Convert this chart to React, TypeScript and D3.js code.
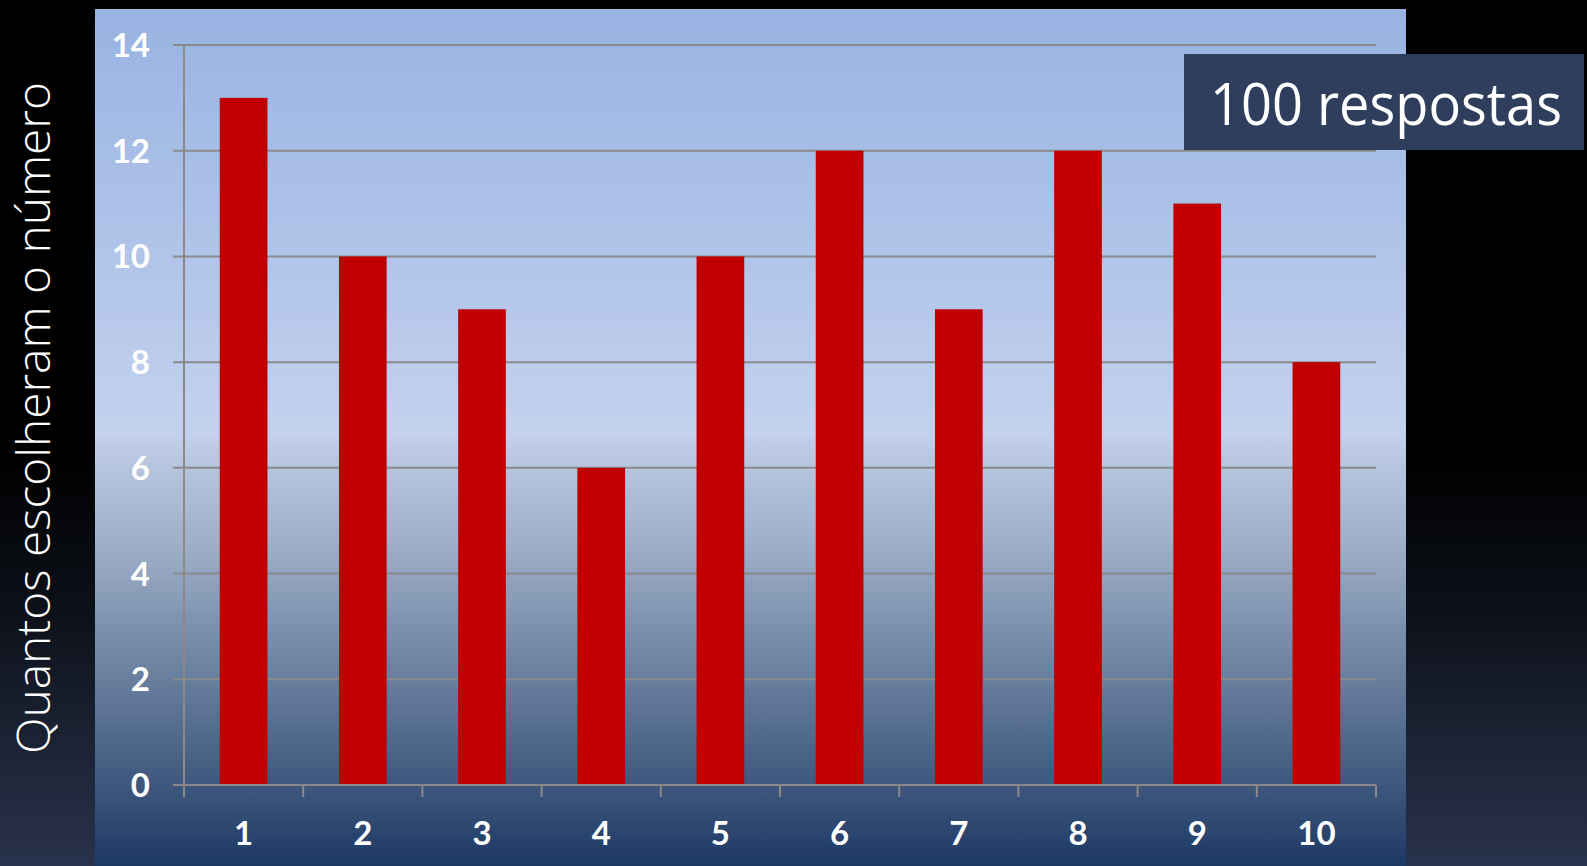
import React from "react";
import * as d3 from "d3";

const categories = ["1", "2", "3", "4", "5", "6", "7", "8", "9", "10"];
const values = [13, 10, 9, 6, 10, 12, 9, 12, 11, 8];
const yTicks = [0, 2, 4, 6, 8, 10, 12, 14];
const yTitle = "Quantos escolheram o número";
const legendText = "100 respostas";

const W = 1587;
const H = 866;

export default function App() {
  const x = d3.scaleBand<string>().domain(categories).range([184, 1376]).paddingInner(0.6).paddingOuter(0.3);
  const xb = d3.scaleBand<string>().domain(categories).range([184, 1376]);
  const y = d3.scaleLinear().domain([0, 14]).range([785, 45]);
  const gridColor = "#8a8a8a";
  return (
    <div style={{ position: "absolute", left: 0, top: 0, width: W, height: H }}>
      <svg width={W} height={H} style={{ display: "block" }}>
        <defs>
          <linearGradient id="outer" x1="0" y1="0" x2="0" y2="1">
            <stop offset="0" stopColor="#000000" />
            <stop offset="0.52" stopColor="#000000" />
            <stop offset="0.7" stopColor="#0c1018" />
            <stop offset="0.85" stopColor="#1b2233" />
            <stop offset="1" stopColor="#29324c" />
          </linearGradient>
          <linearGradient id="panel" x1="0" y1="0" x2="0" y2="1">
            <stop offset="0" stopColor="#98b3e2" />
            <stop offset="0.495" stopColor="#c3d1ee" />
            <stop offset="0.52" stopColor="#bac8e2" />
            <stop offset="0.62" stopColor="#a0b0ca" />
            <stop offset="0.78" stopColor="#687f9e" />
            <stop offset="0.9" stopColor="#41597e" />
            <stop offset="1" stopColor="#1c3864" />
          </linearGradient>
        </defs>
        <rect x={0} y={0} width={W} height={H} fill="url(#outer)" />
        <rect x={95} y={9} width={1311} height={H - 9} fill="url(#panel)" />
        {yTicks.map((t) => (
          <g key={t}>
            <line x1={173} x2={1376} y1={y(t)} y2={y(t)} stroke={gridColor} strokeWidth={2} />
            <text x={150} y={y(t) + 12} textAnchor="end" fill="#ffffff" fontFamily="Lato, 'Open Sans', sans-serif" fontWeight={700} fontSize={33}>
              {t}
            </text>
          </g>
        ))}
        <line x1={184} x2={184} y1={45} y2={797} stroke={gridColor} strokeWidth={2} />
        {[...categories.map((c) => xb(c) as number), 1376].map((px, i) => (
          <line key={i} x1={px} x2={px} y1={785} y2={797} stroke={gridColor} strokeWidth={2} />
        ))}
        {values.map((v, i) => (
          <rect key={i} x={x(categories[i])} y={y(v)} width={x.bandwidth()} height={y(0) - y(v)} fill="#c00000" />
        ))}
        <line x1={173} x2={1376} y1={785} y2={785} stroke={gridColor} strokeWidth={2} />
        {categories.map((c) => (
          <text key={c} x={(xb(c) as number) + xb.bandwidth() / 2} y={845} textAnchor="middle" fill="#ffffff" fontFamily="Lato, 'Open Sans', sans-serif" fontWeight={700} fontSize={33}>
            {c}
          </text>
        ))}
        <text
          transform="translate(50,418) rotate(-90)"
          textAnchor="middle"
          fill="#ffffff"
          fontFamily="'Open Sans', sans-serif"
          fontWeight={300}
          fontSize={46}
          textLength={672}
          lengthAdjust="spacingAndGlyphs"
        >
          {yTitle}
        </text>
        <rect x={1184} y={54} width={400} height={96} fill="#2e3e5c" />
        <text x={1210} y={125} fill="#ffffff" fontFamily="'Open Sans', sans-serif" fontSize={58} textLength={352} lengthAdjust="spacingAndGlyphs">
          {legendText}
        </text>
      </svg>
    </div>
  );
}
